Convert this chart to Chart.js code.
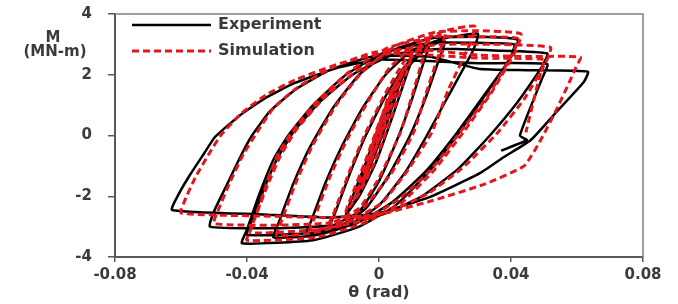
<!DOCTYPE html>
<html><head><meta charset="utf-8">
<script src="https://cdn.jsdelivr.net/npm/chart.js@4.4.0/dist/chart.umd.min.js"></script>
<style>html,body{margin:0;padding:0;background:#fff;}#wrap{width:678px;height:304px;position:relative;}</style>
</head><body><div id="wrap"><canvas id="c" width="678" height="304"></canvas></div>
<script>
const seriesNames = ["Experiment", "Simulation"];
const xTicks = [-0.08, -0.04, 0, 0.04, 0.08];
const xTickLabels = ["-0.08", "-0.04", "0", "0.04", "0.08"];
const yTicks = [-4, -2, 0, 2, 4];
const yTickLabels = ["-4", "-2", "0", "2", "4"];
const xTitle = "θ (rad)";
const yTitleLines = ["M", "(MN-m)"];

const expTheta = [
 0,0.002,0.004,0.005,
 0.004,0.001,-0.002,-0.005,
 -0.004,-0.001,0.003,0.0075,
 0.0063,0.002,-0.003,-0.0075,
 -0.0063,-0.002,0.003,0.007,0.010,
 0.0087,0.004,-0.001,-0.006,-0.010,
 -0.0087,-0.004,0,0.005,0.010,0.015,
 0.0135,0.010,0.006,0,-0.006,-0.015,
 -0.0135,-0.009,-0.004,0.002,0.008,0.014,0.020,
 0.0185,0.014,0.0094,0.003,-0.004,-0.012,-0.022,
 -0.0205,-0.016,-0.011,-0.005,0.002,0.010,0.020,0.030,
 0.0285,0.021,0.0145,0.008,0,-0.010,-0.020,-0.032,
 -0.0305,-0.026,-0.021,-0.014,-0.006,0.004,0.016,0.030,0.042,
 0.040,0.032,0.0236,0.015,0.005,-0.006,-0.020,-0.0415,
 -0.040,-0.0365,-0.032,-0.0275,-0.020,-0.010,0.002,0.016,0.030,0.041,
 0.0395,0.031,0.023,0.014,0.004,-0.007,-0.020,-0.040,
 -0.0385,-0.035,-0.031,-0.026,-0.018,-0.008,0.004,0.018,0.035,0.051,
 0.049,0.042,0.0336,0.024,0.013,0.001,-0.012,-0.030,-0.0512,
 -0.050,-0.046,-0.042,-0.0385,-0.033,-0.0255,-0.015,-0.002,0.015,0.030,0.045,0.0633,
 0.062,0.054,0.046,0.038,0.0306,0.0155,0,-0.015,-0.035,-0.0627,
 -0.0609,-0.0573,-0.0533,-0.0497,-0.0421,-0.0345,-0.0255,-0.0118,0,0.015,0.030,0.051,
 0.0495,0.0427,0.0448,0.037
];
const expM = [
 0,0.8,1.35,1.6,
 1.2,0.1,-0.8,-1.7,
 -1.3,-0.1,1.2,2.1,
 1.7,0.3,-1.1,-2.2,
 -1.8,-0.5,0.9,1.9,2.5,
 2.1,0.6,-0.9,-2.0,-2.6,
 -2.2,-0.9,0.3,1.5,2.4,2.9,
 2.4,1.2,0,-1.5,-2.5,-3.0,
 -2.6,-1.3,0,1.3,2.3,2.9,3.1,
 2.6,1.2,0,-1.3,-2.4,-3.0,-3.25,
 -2.8,-1.5,-0.3,0.9,2.0,2.8,3.2,3.35,
 2.8,1.3,0,-1.2,-2.3,-3.0,-3.3,-3.35,
 -2.9,-1.6,-0.4,0.9,2.0,2.8,3.2,3.25,3.15,
 2.6,1.3,0,-1.2,-2.3,-3.0,-3.45,-3.55,
 -3.1,-2.0,-0.8,0,1.0,2.0,2.75,3.05,3.05,3.0,
 2.5,1.2,0,-1.2,-2.2,-2.9,-3.2,-3.27,
 -2.8,-1.8,-0.8,0.1,1.1,2.0,2.65,2.85,2.8,2.7,
 2.2,1.1,0,-1.1,-2.0,-2.6,-2.95,-3.05,-3.0,
 -2.5,-1.6,-0.7,0,0.8,1.5,2.15,2.6,2.6,2.2,2.15,2.1,
 1.75,0.8,-0.15,-0.7,-1.24,-2.02,-2.55,-2.7,-2.6,-2.45,
 -1.97,-1.3,-0.64,-0.05,0.67,1.23,1.73,2.25,2.5,2.45,2.38,2.35,
 1.9,0,-0.15,-0.5
];
const simTheta = [
 0,0.002,0.004,0.005,
 0.004,0.001,-0.002,-0.005,
 -0.004,-0.001,0.003,0.0075,
 0.0063,0.002,-0.003,-0.0075,
 -0.0063,-0.002,0.003,0.007,0.010,
 0.0087,0.004,-0.001,-0.006,-0.010,
 -0.0087,-0.004,0,0.005,0.010,0.015,
 0.0135,0.010,0.0065,0,-0.006,-0.015,
 -0.0135,-0.009,-0.004,0.002,0.008,0.014,0.020,
 0.0185,0.014,0.0105,0.004,-0.004,-0.012,-0.021,
 -0.0195,-0.015,-0.010,-0.004,0.003,0.011,0.020,0.029,
 0.0275,0.021,0.016,0.009,0.001,-0.010,-0.020,-0.031,
 -0.0295,-0.025,-0.020,-0.013,-0.005,0.005,0.017,0.030,0.043,
 0.0415,0.034,0.0255,0.017,0.007,-0.005,-0.019,-0.040,
 -0.0385,-0.035,-0.031,-0.0265,-0.019,-0.009,0.003,0.017,0.031,0.042,
 0.0405,0.033,0.0245,0.016,0.006,-0.005,-0.019,-0.039,
 -0.0375,-0.034,-0.030,-0.025,-0.017,-0.007,0.005,0.019,0.036,0.052,
 0.0505,0.044,0.036,0.026,0.015,0.003,-0.011,-0.029,-0.050,
 -0.0485,-0.045,-0.041,-0.037,-0.032,-0.0245,-0.014,-0.001,0.015,0.030,0.045,0.061,
 0.0595,0.058,0.054,0.049,0.044,0.032,0.016,0,-0.015,-0.035,-0.060,
 -0.0585,-0.0555,-0.0515,-0.048,-0.0415,-0.034,-0.025,-0.011,0.001,0.015,0.030,0.050,
 0.049,0.0445
];
const simM = [
 0,0.85,1.45,1.7,
 1.3,0.2,-0.7,-1.6,
 -1.2,0,1.3,2.2,
 1.8,0.4,-1.0,-2.1,
 -1.7,-0.4,1.0,2.0,2.65,
 2.2,0.7,-0.8,-1.9,-2.5,
 -2.1,-0.8,0.4,1.7,2.6,3.1,
 2.6,1.3,0.1,-1.4,-2.4,-2.9,
 -2.5,-1.2,0.1,1.4,2.5,3.1,3.35,
 2.8,1.3,0.1,-1.2,-2.3,-2.9,-3.15,
 -2.7,-1.4,-0.2,1.0,2.2,3.0,3.45,3.6,
 3.0,1.5,0.1,-1.1,-2.2,-2.9,-3.2,-3.3,
 -2.8,-1.5,-0.3,1.0,2.1,2.95,3.4,3.45,3.35,
 2.8,1.4,0.1,-1.1,-2.2,-2.9,-3.35,-3.45,
 -3.0,-1.9,-0.7,0.1,1.1,2.1,2.9,3.25,3.25,3.2,
 2.7,1.3,0.1,-1.1,-2.1,-2.8,-3.1,-3.2,
 -2.7,-1.7,-0.7,0.2,1.2,2.1,2.8,3.0,3.0,2.9,
 2.4,1.2,0.1,-1.0,-1.9,-2.5,-2.85,-2.95,-2.9,
 -2.4,-1.5,-0.6,0.1,0.9,1.6,2.25,2.75,2.8,2.65,2.6,2.58,
 2.2,1.83,0.9,-0.15,-1.0,-1.6,-2.15,-2.6,-2.7,-2.65,-2.55,
 -2.05,-1.35,-0.6,0,0.75,1.35,1.85,2.4,2.7,2.65,2.55,2.5,
 2.1,0.1
];

const toPts = (xs, ys) => xs.map((x, i) => ({x: x, y: ys[i]}));
const FONT = '"DejaVu Sans", sans-serif';
const TXT = '#3a3a3a';
const RED = 'rgb(228,22,28)';

const extras = {
  id: 'extras',
  afterDraw(chart) {
    const ctx = chart.ctx, a = chart.chartArea;
    ctx.save();
    ctx.strokeStyle = '#808080'; ctx.lineWidth = 1.5; ctx.setLineDash([]);
    ctx.beginPath(); ctx.moveTo(a.left, a.top); ctx.lineTo(a.right, a.top); ctx.lineTo(a.right, a.bottom); ctx.stroke();
    const ds = chart.data.datasets;
    const lx0 = a.left + 17, lx1 = a.left + 96, tx = a.left + 103;
    const rows = [a.top + 11, a.top + 37];
    ds.forEach((d, i) => {
      ctx.strokeStyle = d.borderColor; ctx.lineWidth = d.borderWidth;
      ctx.setLineDash(d.borderDash || []);
      ctx.beginPath(); ctx.moveTo(lx0, rows[i]); ctx.lineTo(lx1, rows[i]); ctx.stroke();
      ctx.setLineDash([]);
      ctx.fillStyle = TXT; ctx.font = 'bold 16px ' + FONT; ctx.textBaseline = 'middle'; ctx.textAlign = 'left';
      ctx.fillText(d.label, tx, rows[i]);
    });
    ctx.fillStyle = TXT; ctx.font = 'bold 15px ' + FONT; ctx.textAlign = 'center'; ctx.textBaseline = 'middle';
    ctx.fillText(yTitleLines[0], 53, 38);
    ctx.fillText(yTitleLines[1], 55, 52);
    ctx.restore();
  }
};

new Chart(document.getElementById('c'), {
  type: 'scatter',
  data: {
    datasets: [
      {label: seriesNames[0], data: toPts(expTheta, expM), showLine: true, borderColor: '#000', borderWidth: 2.5, pointRadius: 0, tension: 0.15, order: 2},
      {label: seriesNames[1], data: toPts(simTheta, simM), showLine: true, borderColor: RED, borderWidth: 3, borderDash: [7, 4], pointRadius: 0, tension: 0.15, order: 1}
    ]
  },
  options: {
    responsive: false, animation: false,
    layout: {padding: {top: 14, right: 35, left: 0, bottom: 0}},
    plugins: {legend: {display: false}, tooltip: {enabled: false}},
    scales: {
      x: {
        type: 'linear', min: -0.08, max: 0.08,
        afterBuildTicks: s => { s.ticks = xTicks.map(v => ({value: v})); },
        afterFit: s => { s.height = 47; s.paddingLeft = 0; s.paddingRight = 0; },
        ticks: {callback: (v, i) => xTickLabels[i], color: TXT, font: {family: FONT, size: 15, weight: 'bold'}, padding: 4, maxRotation: 0},
        grid: {display: true, drawOnChartArea: false, drawTicks: true, tickLength: 5, color: '#595959', lineWidth: 1.5},
        border: {display: true, color: '#595959', width: 2},
        title: {display: true, text: xTitle, color: TXT, font: {family: FONT, size: 16, weight: 'bold'}, padding: {top: 0, bottom: 2}}
      },
      y: {
        type: 'linear', min: -4, max: 4,
        afterBuildTicks: s => { s.ticks = yTicks.map(v => ({value: v})); },
        afterFit: s => { s.width = 115; s.paddingTop = 0; s.paddingBottom = 0; },
        ticks: {callback: (v, i) => yTickLabels[i], color: TXT, font: {family: FONT, size: 15, weight: 'bold'}, padding: 16},
        grid: {display: true, drawOnChartArea: false, drawTicks: true, tickLength: 7, color: '#595959', lineWidth: 1.5},
        border: {display: true, color: '#595959', width: 2}
      }
    }
  },
  plugins: [extras]
});
</script></body></html>
